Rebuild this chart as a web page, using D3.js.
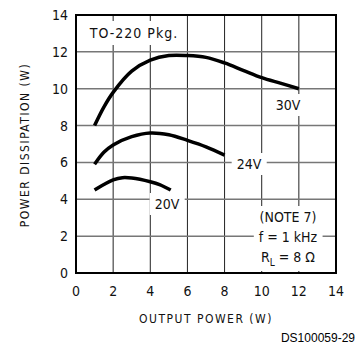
<!DOCTYPE html>
<meta charset="utf-8">
<style>
body { margin: 0; background: #fff; }
svg { display: block; }
.lbl { font: 14px "DejaVu Sans Condensed", "DejaVu Sans", sans-serif; fill: #111; }
.axis-title { font: 12px "DejaVu Sans Condensed", "DejaVu Sans", sans-serif; letter-spacing: 1.5px; fill: #111; }
.ds { font: 12px "Liberation Sans", Arial, sans-serif; }
</style>
<svg id="chart" width="357" height="345"></svg>
<script src="https://d3js.org/d3.v7.min.js"></script>
<script>

// output power (W) vs power dissipation (W)
var x30 = [1, 1.5, 2, 3, 4, 5, 6, 7, 8, 9, 10, 11, 12],
    y30 = [8.0, 9.0, 9.8, 10.95, 11.55, 11.8, 11.8, 11.7, 11.4, 11.0, 10.6, 10.3, 10.0];
var x24 = [1, 1.5, 2, 3, 4, 5, 6, 7, 8],
    y24 = [5.9, 6.55, 6.95, 7.4, 7.6, 7.5, 7.2, 6.85, 6.4];
var x20 = [1, 1.5, 2, 2.5, 3, 4, 4.5, 5.1],
    y20 = [4.5, 4.8, 5.05, 5.17, 5.15, 4.95, 4.8, 4.5];

var xTicks = [0, 2, 4, 6, 8, 10, 12, 14],
    yTicks = [0, 2, 4, 6, 8, 10, 12, 14];

var svg = d3.select("#chart"),
    mLeft = 76, mTop = 15, width = 260, height = 258;

var x = d3.scaleLinear().domain([0, 14]).range([mLeft, mLeft + width]),
    y = d3.scaleLinear().domain([0, 14]).range([mTop + height, mTop]);

var g = svg.append("g");

// grid
g.selectAll(".vg").data(xTicks.slice(1, -1)).enter().append("line")
    .attr("x1", function(d) { return x(d); }).attr("x2", function(d) { return x(d); })
    .attr("y1", mTop).attr("y2", mTop + height)
    .attr("stroke", "#222").attr("stroke-width", 1);
g.selectAll(".hg").data(yTicks.slice(1, -1)).enter().append("line")
    .attr("x1", mLeft).attr("x2", mLeft + width)
    .attr("y1", function(d) { return y(d); }).attr("y2", function(d) { return y(d); })
    .attr("stroke", "#777").attr("stroke-width", 1.5);

// tick labels
g.selectAll(".xt").data(xTicks).enter().append("text")
    .attr("class", "lbl")
    .attr("x", function(d) { return x(d); })
    .attr("y", mTop + height + 23)
    .attr("text-anchor", "middle")
    .text(function(d) { return d; });
g.selectAll(".yt").data(yTicks).enter().append("text")
    .attr("class", "lbl")
    .attr("x", mLeft - 8)
    .attr("y", function(d) { return y(d) + 5; })
    .attr("text-anchor", "end")
    .text(function(d) { return d; });

// boxed labels (white box hides grid behind)
function boxed(lines, cx, cy, pad, lh) {
  var grp = svg.append("g");
  var rect = grp.append("rect").attr("fill", "#fff");
  var t = grp.append("g");
  lines.forEach(function(s, i) {
    var tx = t.append("text").attr("class", "lbl")
      .attr("x", cx).attr("y", cy + i * lh).attr("text-anchor", "middle");
    if (typeof s === "string") tx.text(s);
    else s(tx);
  });
  var b = t.node().getBBox();
  rect.attr("x", b.x - pad[0]).attr("y", b.y - pad[1])
      .attr("width", b.width + 2 * pad[0]).attr("height", b.height + 2 * pad[1]);
  return grp;
}

boxed(["TO-220 Pkg."], 134, 38, [6, 4], 0).select("text").attr("letter-spacing", "1px");
boxed(["30V"], 288, 110, [4, 3], 0);
boxed(["24V"], 249, 169, [5, 3], 0);
boxed(["20V"], 167, 209, [5, 3], 0);
boxed([
  "(NOTE 7)",
  "f  =  1 kHz",
  function(tx) {
    tx.text("R");
    tx.append("tspan").attr("font-size", "10px").attr("dy", 4).text("L");
    tx.append("tspan").attr("dy", -4).text("  =  8 \u03A9");
  }
], 288, 222, [5, 3], 20);

// curves
var line = d3.line()
    .x(function(d) { return x(d[0]); })
    .y(function(d) { return y(d[1]); })
    .curve(d3.curveCatmullRom);

[[x30, y30], [x24, y24], [x20, y20]].forEach(function(s) {
  svg.append("path")
    .datum(d3.zip(s[0], s[1]))
    .attr("d", line)
    .attr("fill", "none")
    .attr("stroke", "#000")
    .attr("stroke-width", 3.5);
});

// frame
svg.append("rect")
    .attr("x", mLeft).attr("y", mTop).attr("width", width).attr("height", height)
    .attr("fill", "none").attr("stroke", "#000").attr("stroke-width", 2);

// axis titles
svg.append("text").attr("class", "axis-title")
    .attr("x", 206).attr("y", 323).attr("text-anchor", "middle")
    .text("OUTPUT POWER (W)");
svg.append("text").attr("class", "axis-title")
    .attr("transform", "translate(29,145) rotate(-90)")
    .attr("text-anchor", "middle")
    .text("POWER DISSIPATION (W)");
svg.append("text").attr("class", "ds")
    .attr("x", 355).attr("y", 342).attr("text-anchor", "end")
    .text("DS100059-29");

</script>
